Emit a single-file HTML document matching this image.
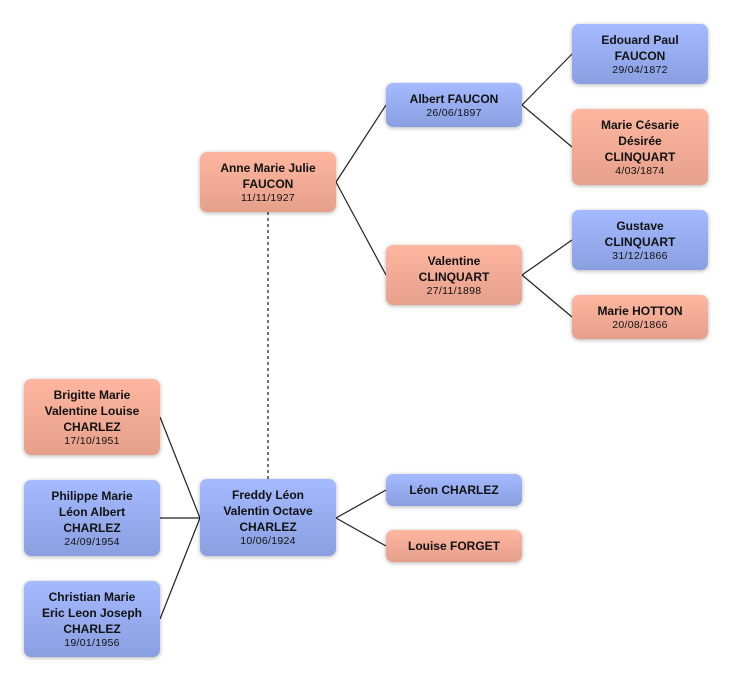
<!DOCTYPE html>
<html><head><meta charset="utf-8"><style>
html,body{margin:0;padding:0;background:#fff;}
body{width:732px;height:682px;position:relative;overflow:hidden;font-family:"Liberation Sans","DejaVu Sans",sans-serif;}
.b{position:absolute;width:136px;border-radius:7px;box-shadow:0 1px 4px rgba(0,0,0,0.3);display:flex;flex-direction:column;justify-content:center;align-items:center;text-align:center;color:#111;box-sizing:border-box;}
.m{background:linear-gradient(#a5baff,#8a9fe0);}
.f{background:linear-gradient(#feb6a0,#e5a08b);}
.n{font-weight:bold;font-size:12px;line-height:16px;}
.d{font-size:10.5px;line-height:13px;letter-spacing:0.3px;}
svg{position:absolute;left:0;top:0;}
</style></head><body>
<svg width="732" height="682">
<g stroke="#222" stroke-width="1.2" fill="none">
<path d="M336 182L386 105M336 182L386 275"/>
<path d="M522 105L572 54M522 105L572 147"/>
<path d="M522 275L572 240M522 275L572 317"/>
<path d="M200 518L160 417M200 518L160 518M200 518L160 619"/>
<path d="M336 518L386 490M336 518L386 546"/>
</g>
<path d="M268 212L268 479" stroke="#777" stroke-width="2" stroke-dasharray="3,3"/>
</svg>
<div class="b f" style="left:200px;top:152px;height:60px"><div class="n">Anne Marie Julie<br>FAUCON</div><div class="d">11/11/1927</div></div>
<div class="b m" style="left:386px;top:83px;height:44px"><div class="n">Albert FAUCON</div><div class="d">26/06/1897</div></div>
<div class="b f" style="left:386px;top:245px;height:60px"><div class="n">Valentine<br>CLINQUART</div><div class="d">27/11/1898</div></div>
<div class="b m" style="left:572px;top:24px;height:60px"><div class="n">Edouard Paul<br>FAUCON</div><div class="d">29/04/1872</div></div>
<div class="b f" style="left:572px;top:109px;height:76px"><div class="n">Marie Césarie<br>Désirée<br>CLINQUART</div><div class="d">4/03/1874</div></div>
<div class="b m" style="left:572px;top:210px;height:60px"><div class="n">Gustave<br>CLINQUART</div><div class="d">31/12/1866</div></div>
<div class="b f" style="left:572px;top:295px;height:44px"><div class="n">Marie HOTTON</div><div class="d">20/08/1866</div></div>
<div class="b f" style="left:24px;top:379px;height:76px"><div class="n">Brigitte Marie<br>Valentine Louise<br>CHARLEZ</div><div class="d">17/10/1951</div></div>
<div class="b m" style="left:24px;top:480px;height:76px"><div class="n">Philippe Marie<br>Léon Albert<br>CHARLEZ</div><div class="d">24/09/1954</div></div>
<div class="b m" style="left:24px;top:581px;height:76px"><div class="n">Christian Marie<br>Eric Leon Joseph<br>CHARLEZ</div><div class="d">19/01/1956</div></div>
<div class="b m" style="left:200px;top:479px;height:77px"><div class="n">Freddy Léon<br>Valentin Octave<br>CHARLEZ</div><div class="d">10/06/1924</div></div>
<div class="b m" style="left:386px;top:474px;height:32px"><div class="n">Léon CHARLEZ</div></div>
<div class="b f" style="left:386px;top:530px;height:32px"><div class="n">Louise FORGET</div></div>
</body></html>
